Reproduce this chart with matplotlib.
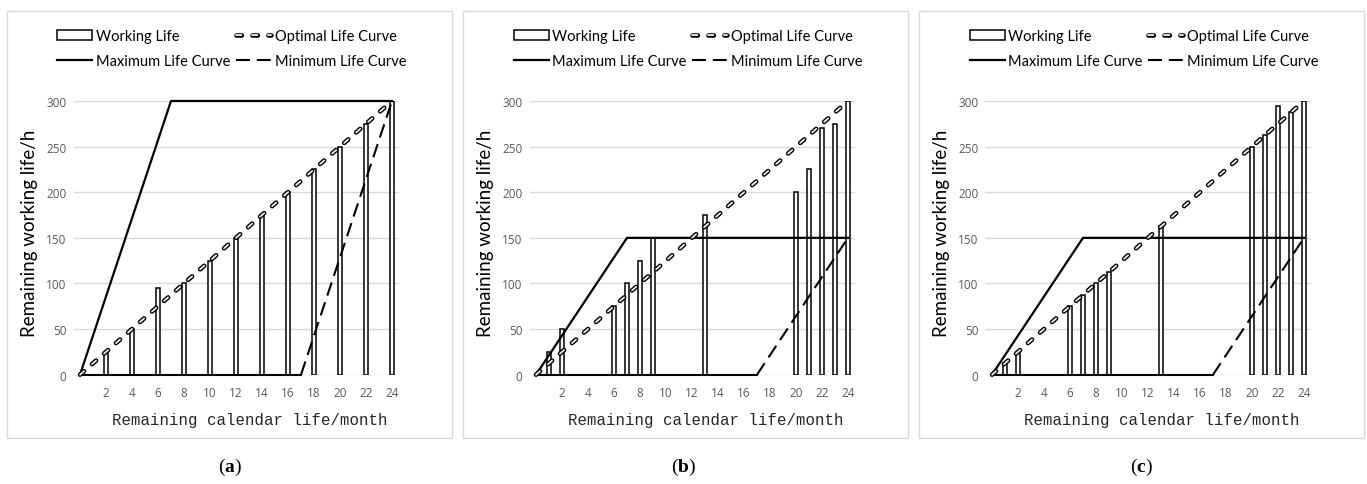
import matplotlib
matplotlib.use("Agg")
import matplotlib.pyplot as plt
import matplotlib.patheffects as pe
from matplotlib.patches import Rectangle

plt.rcParams['lines.scale_dashes'] = False
plt.rcParams['mathtext.fontset'] = 'custom'
plt.rcParams['mathtext.rm'] = 'Liberation Serif'
plt.rcParams['mathtext.bf'] = 'Liberation Serif:bold'

# remaining calendar life (month) of each bar and remaining working life (h)
months_a = [2, 4, 6, 8, 10, 12, 14, 16, 18, 20, 22, 24]
life_a = [25, 50, 95, 100, 125, 150, 175, 200, 225, 250, 275, 300]
months_b = [1, 2, 6, 7, 8, 9, 13, 20, 21, 22, 23, 24]
life_b = [25, 50, 75, 100, 125, 150, 175, 200, 225, 270, 275, 300]
months_c = [1, 2, 6, 7, 8, 9, 13, 20, 21, 22, 23, 24]
life_c = [12.5, 25, 75, 87.5, 100, 112.5, 162.5, 250, 262.5, 295, 287.5, 300]

# curve vertices
opt_x = [0, 24]
opt_y = [0, 300]
max_x = [0, 7, 24]
max_y_a = [0, 300, 300]
max_y_bc = [0, 150, 150]
min_x = [0, 17, 24]
min_y_a = [0, 0, 300]
min_y_bc = [0, 0, 150]

panel_tags = ['a', 'b', 'c']
x_ticks = list(range(2, 25, 2))
y_ticks = list(range(0, 301, 50))

W, H = 1367, 485
fig = plt.figure(figsize=(W / 100, H / 100), dpi=100)

panels = [
    (months_a, life_a, max_y_a, min_y_a),
    (months_b, life_b, max_y_bc, min_y_bc),
    (months_c, life_c, max_y_bc, min_y_bc),
]
ax_lefts = [73.5, 529.5, 985.5]
boxes = [(7, 452), (463, 908), (919, 1364)]
tag_x = [230, 684, 1141]

for i, (mx, ly, maxy, miny) in enumerate(panels):
    off = ax_lefts[i] - ax_lefts[0]
    b0, b1 = boxes[i]
    fig.patches.append(Rectangle((b0 / W, 1 - 439 / H), (b1 - b0) / W, 427 / H,
                                 transform=fig.transFigure, fill=False,
                                 ec='#d9d9d9', lw=1))

    ax = fig.add_axes([ax_lefts[i] / W, 1 - 375.7 / H, 325 / W, 273.7 / H])
    ax.set_xlim(-0.5, 24.5)
    ax.set_ylim(0, 300)
    for s in ax.spines.values():
        s.set_visible(False)
    ax.yaxis.grid(True, color='#d9d9d9', lw=1)
    ax.set_axisbelow(True)
    ax.set_xticks(x_ticks)
    ax.set_yticks(y_ticks)
    ax.tick_params(length=0, labelsize=8.5, colors='#595959')
    ax.tick_params(axis='x', pad=8)
    ax.tick_params(axis='y', pad=5)
    for lab in ax.get_xticklabels() + ax.get_yticklabels():
        lab.set_family('Open Sans')

    bars = ax.bar(mx, ly, width=0.33, color='white', edgecolor='black',
                  lw=1.1, label='Working Life', zorder=2)

    opt, = ax.plot(opt_x, opt_y, color='#ececec', lw=1.3,
                   linestyle=(0, (3.9, 7.6)), dash_capstyle='round',
                   path_effects=[pe.Stroke(linewidth=3.3, foreground='black'),
                                 pe.Normal()],
                   label='Optimal Life Curve', zorder=4, clip_on=False)
    mxl, = ax.plot(max_x, maxy, color='black', lw=1.6,
                   label='Maximum Life Curve', zorder=3, clip_on=False)
    # flat part of the minimum curve looks solid, rising part dashed
    ax.plot(min_x[:2], miny[:2], color='black', lw=1.5, zorder=3, clip_on=False)
    mnl, = ax.plot(min_x[1:], miny[1:], color='black', lw=1.5,
                   linestyle=(0, (10, 5)), label='Minimum Life Curve', zorder=3,
                   clip_on=False)

    ax.text(-0.134, 0.52, 'Remaining working life/h', transform=ax.transAxes,
            rotation=90, ha='center', va='center', fontsize=13.5,
            family='Lato', color='black')
    ax.text(0.543, -0.162, 'Remaining calendar life/month',
            transform=ax.transAxes, ha='center', va='center', fontsize=11.3,
            family='Liberation Mono', color='#262626')

    fig.legend([bars, mxl, opt, mnl],
               ['Working Life', 'Maximum Life Curve', 'Optimal Life Curve',
                'Minimum Life Curve'],
               loc='center', bbox_to_anchor=((232 + off) / W, 1 - 49.5 / H),
               ncol=2, frameon=False, prop={'family': 'Lato', 'size': 10.5},
               handlelength=2.4, handleheight=0.65, columnspacing=0.4,
               handletextpad=0.25, labelspacing=0.75, borderpad=0)

    fig.text(tag_x[i] / W, 1 - 467 / H, r'$(\mathbf{%s})$' % panel_tags[i],
             ha='center', va='center', fontsize=14)

fig.savefig('out.png', dpi=100, facecolor='white')
